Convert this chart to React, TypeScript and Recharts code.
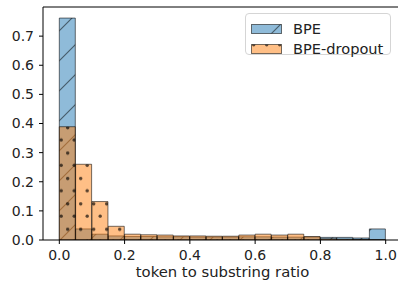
import { BarChart, Bar, XAxis, YAxis, Legend, ReferenceLine } from "recharts";

// histogram bins (left edges), width 0.05
const binStarts = [0.0, 0.05, 0.1, 0.15, 0.2, 0.25, 0.3, 0.35, 0.4, 0.45, 0.5, 0.55, 0.6, 0.65, 0.7, 0.75, 0.8, 0.85, 0.9, 0.95];
const bpe = [0.762, 0.038, 0.02, 0.014, 0.012, 0.012, 0.011, 0.011, 0.01, 0.01, 0.01, 0.011, 0.011, 0.01, 0.01, 0.01, 0.009, 0.009, 0.007, 0.038];
const bpeDropout = [0.389, 0.26, 0.132, 0.047, 0.02, 0.018, 0.017, 0.014, 0.014, 0.013, 0.013, 0.017, 0.02, 0.017, 0.02, 0.012, 0.004, 0.003, 0.002, 0.001];

const xTicks = [0, 0.2, 0.4, 0.6, 0.8, 1.0];
const yTicks = [0, 0.1, 0.2, 0.3, 0.4, 0.5, 0.6, 0.7];

const series = [
  { key: "bpe", name: "BPE", fill: "url(#hatchBPE)" },
  { key: "dropout", name: "BPE-dropout", fill: "url(#dotsDrop)" },
];

const data = binStarts.map((b, i) => ({ bin: b, bpe: bpe[i], dropout: bpeDropout[i] }));

const font = "DejaVu Sans, sans-serif";
const tickStyle = { fill: "#222", fontSize: 14, fontFamily: font };

const renderLegend = () => (
  <div
    style={{
      boxSizing: "border-box",
      width: 146,
      height: 42,
      border: "1px solid #d5d5d5",
      borderRadius: 4,
      background: "rgba(255,255,255,0.8)",
      paddingTop: 5,
      paddingLeft: 5,
      fontFamily: font,
      fontSize: 14.6,
      color: "#222",
    }}
  >
    {series.map((s) => (
      <div key={s.key} style={{ display: "flex", alignItems: "center", height: 19.7 }}>
        <svg width={31} height={10} style={{ display: "block" }}>
          <rect x={0.5} y={0.5} width={30} height={9} fill={s.fill} stroke="#000" strokeOpacity={0.55} />
        </svg>
        <span style={{ marginLeft: 11, lineHeight: "15px", whiteSpace: "nowrap" }}>{s.name}</span>
      </div>
    ))}
  </div>
);

export default function App() {
  return (
    <div style={{ position: "absolute", left: 0, top: 0, width: 398, height: 282, overflow: "hidden", background: "#fff" }}>
      <BarChart width={402} height={282} data={data} margin={{ top: 7, right: 0, left: 0, bottom: 0 }} barCategoryGap={0} barGap={0}>
        <defs>
          <pattern id="hatchBPE" patternUnits="userSpaceOnUse" width={30} height={30}>
            <rect width={30} height={30} fill="#1f77b4" fillOpacity={0.5} />
            <path d="M0,30 L30,0 M-3,3 L3,-3 M27,33 L33,27" stroke="#000" strokeOpacity={0.5} strokeWidth={1.2} />
          </pattern>
          <pattern id="dotsDrop" patternUnits="userSpaceOnUse" width={13} height={25.4}>
            <rect width={13} height={25.4} fill="#ff7f0e" fillOpacity={0.5} />
            <circle cx={2.7} cy={0.7} r={1.7} fill="#000" fillOpacity={0.65} />
            <circle cx={2.7} cy={26.1} r={1.7} fill="#000" fillOpacity={0.65} />
            <circle cx={9.2} cy={13} r={1.7} fill="#000" fillOpacity={0.65} />
          </pattern>
        </defs>
        <XAxis
          xAxisId="t"
          type="number"
          dataKey="bin"
          domain={[-0.05, 1.05]}
          allowDataOverflow
          ticks={xTicks}
          tickFormatter={(v: number) => v.toFixed(1)}
          height={42}
          tickSize={4}
          tickMargin={6}
          tick={tickStyle}
          axisLine={{ stroke: "#000" }}
          tickLine={{ stroke: "#000" }}
          label={{ value: "token to substring ratio", position: "insideBottom", offset: 5, style: { fill: "#222", fontSize: 14.8, fontFamily: font } }}
        />
        <XAxis xAxisId="a" dataKey="bin" hide height={0} padding={{ left: 16.3, right: 16.3 }} />
        <XAxis xAxisId="b" dataKey="bin" hide height={0} padding={{ left: 16.3, right: 16.3 }} />
        <YAxis
          domain={[0, 0.8]}
          allowDataOverflow
          ticks={yTicks}
          tickFormatter={(v: number) => v.toFixed(1)}
          width={43}
          tickSize={4}
          tickMargin={5}
          tick={tickStyle}
          axisLine={{ stroke: "#000" }}
          tickLine={{ stroke: "#000" }}
        />
        <ReferenceLine xAxisId="t" y={0.8} stroke="#000" strokeWidth={1} />
        <Legend
          layout="vertical"
          align="center"
          verticalAlign="middle"
          content={renderLegend}
          wrapperStyle={{ left: 245, top: 13, width: 146, height: 42 }}
        />
        <Bar xAxisId="a" dataKey="bpe" name="BPE" fill="url(#hatchBPE)" stroke="#000" strokeOpacity={0.55} strokeWidth={1} isAnimationActive={false} />
        <Bar xAxisId="b" dataKey="dropout" name="BPE-dropout" fill="url(#dotsDrop)" stroke="#000" strokeOpacity={0.55} strokeWidth={1} isAnimationActive={false} />
      </BarChart>
    </div>
  );
}
